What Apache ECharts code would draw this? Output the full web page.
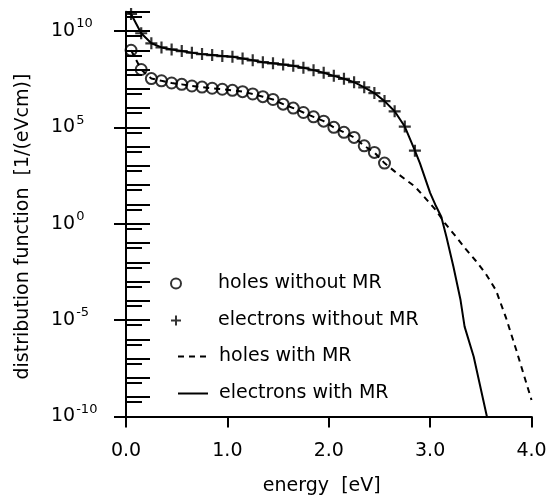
<!DOCTYPE html>
<html><head><meta charset="utf-8">
<script src="https://cdn.jsdelivr.net/npm/echarts@6/dist/echarts.min.js"></script>
<style>html,body{margin:0;padding:0;background:#fff}#c{width:550px;height:500px}</style>
</head><body><div id="c"></div>
<script>
const FONT = 'DejaVu Sans';

// ---- data (energy in eV, distribution function in 1/(eVcm)) ----
const holesEnergy = [0.05,0.15,0.25,0.35,0.45,0.55,0.65,0.75,0.85,0.95,1.05,1.15,1.25,1.35,1.45,1.55,1.65,1.75,1.85,1.95,2.05,2.15,2.25,2.35,2.45,2.55];
const holesWithoutMR = [1.0e9,1.0e8,3.4e7,2.6e7,2.0e7,1.7e7,1.4e7,1.23e7,1.07e7,9.5e6,8.3e6,7.1e6,5.4e6,3.9e6,2.8e6,1.6e6,1.0e6,5.9e5,3.5e5,2.1e5,1.0e5,5.5e4,3.0e4,1.1e4,5.0e3,1.4e3];

const electronsEnergy = [0.05,0.15,0.25,0.35,0.45,0.55,0.65,0.75,0.85,0.95,1.05,1.15,1.25,1.35,1.45,1.55,1.65,1.75,1.85,1.95,2.05,2.15,2.25,2.35,2.45,2.55,2.65,2.75,2.85];
const electronsWithoutMR = [7.6e10,7.6e9,2.3e9,1.4e9,1.1e9,9.1e8,7.4e8,6.3e8,5.6e8,5.0e8,4.6e8,3.7e8,3.0e8,2.4e8,2.1e8,1.8e8,1.55e8,1.23e8,9.3e7,6.8e7,4.7e7,3.3e7,2.2e7,1.2e7,6.0e6,2.3e6,6.8e5,1.1e5,6.2e3];

const holesMREnergy = [0.05,0.15,0.25,0.35,0.45,0.55,0.65,0.75,0.85,0.95,1.05,1.15,1.25,1.35,1.45,1.55,1.65,1.75,1.85,1.95,2.05,2.15,2.25,2.35,2.45,2.55,2.65,2.75,2.85,2.95,3.05,3.15,3.25,3.35,3.45,3.55,3.65,3.75,3.85,3.95,4.0];
const holesWithMR = [1.0e9,1.0e8,3.4e7,2.6e7,2.0e7,1.7e7,1.4e7,1.23e7,1.07e7,9.5e6,8.3e6,7.1e6,5.4e6,3.9e6,2.8e6,1.6e6,1.0e6,5.9e5,3.5e5,2.1e5,1.0e5,5.5e4,3.0e4,1.1e4,5.0e3,1.4e3,5.2e2,2.1e2,85,22,5.6,1.0,0.23,0.05,0.012,2.5e-3,3.5e-4,1.26e-5,2.8e-7,5.2e-9,7.2e-10];

const electronsMREnergy = [0.0,0.05,0.15,0.25,0.35,0.45,0.55,0.65,0.75,0.85,0.95,1.05,1.15,1.25,1.35,1.45,1.55,1.65,1.75,1.85,1.95,2.05,2.15,2.25,2.35,2.45,2.55,2.65,2.75,2.85,2.9,3.0,3.05,3.11,3.16,3.23,3.3,3.34,3.43,3.56];
const electronsWithMR = [1.0e11,7.6e10,7.6e9,2.3e9,1.4e9,1.1e9,9.1e8,7.4e8,6.3e8,5.6e8,5.0e8,4.6e8,3.7e8,3.0e8,2.4e8,2.1e8,1.8e8,1.55e8,1.23e8,9.3e7,6.8e7,4.7e7,3.3e7,2.2e7,1.2e7,6.0e6,2.3e6,6.8e5,1.1e5,6.2e3,1.35e3,40,10,2.3,0.22,5.9e-3,1.1e-4,4.6e-6,1.26e-7,1.0e-10];

// ---- axes / ticks ----
const xTicks = [0,1,2,3,4];
const yLabelExponents = [-10,-5,0,5,10];
const yDecadeExponents = [-10,-9,-8,-7,-6,-5,-4,-3,-2,-1,0,1,2,3,4,5,6,7,8,9,10,11];
const SHORT_TICK_SHIFT = 0.26;
const yShortTicks = yDecadeExponents.filter(n => n > -10).map(n => n - SHORT_TICK_SHIFT);

const seriesNames = ['holes without MR','electrons without MR','holes with MR','electrons with MR'];

const pairs = (xs, ys) => xs.map((x, i) => [x, ys[i]]);
const black = '#000';

const auxY = (extra) => Object.assign({
  type: 'value', min: -10, max: 11, position: 'left', offset: 0,
  axisLine: { show: false, onZero: false }, splitLine: { show: false },
  axisLabel: { show: false }
}, extra);

const legendText = { fontSize: 19, fontFamily: FONT, color: black, lineHeight: 23 };

const chart = echarts.init(document.getElementById('c'), null, { renderer: 'canvas' });
chart.setOption({
  animation: false,
  backgroundColor: '#fff',
  textStyle: { fontFamily: FONT, color: black },
  grid: { left: 126, right: 18.5, top: 11.7, bottom: 83.5, outerBoundsMode: 'none', containLabel: false },
  xAxis: {
    type: 'value', min: 0, max: 4, interval: 1,
    name: 'energy  [eV]', nameLocation: 'middle', nameGap: 60,
    nameTextStyle: { fontSize: 19, fontFamily: FONT, color: black, padding: [0, 14, 0, 0] },
    axisLine: { onZero: false, lineStyle: { color: black, width: 2 } },
    axisTick: { show: true, inside: false, length: 11, lineStyle: { color: black, width: 2 }, customValues: xTicks },
    axisLabel: { fontSize: 19, fontFamily: FONT, color: black, margin: 25, customValues: xTicks,
      formatter: v => v.toFixed(1) },
    splitLine: { show: false }
  },
  yAxis: [
    {
      type: 'log', logBase: 10, min: 1e-10, max: 1e11, position: 'left',
      name: 'distribution function  [1/(eVcm)]', nameLocation: 'middle', nameGap: 93,
      nameTextStyle: { fontSize: 19, fontFamily: FONT, color: black, padding: [0, 25, 0, 0] },
      axisLine: { show: true, onZero: false, lineStyle: { color: black, width: 2 } },
      axisTick: { show: false }, axisLabel: { show: false }, splitLine: { show: false }, minorTick: { show: false }
    },
    auxY({ axisTick: { show: true, inside: true, length: 24, lineStyle: { color: black, width: 2 }, customValues: yDecadeExponents } }),
    auxY({ axisTick: { show: true, inside: true, length: 16, lineStyle: { color: black, width: 2 }, customValues: yShortTicks } }),
    auxY({
      axisTick: { show: true, inside: false, length: 12, lineStyle: { color: black, width: 2 }, customValues: yLabelExponents },
      axisLabel: {
        show: true, customValues: yLabelExponents, align: 'left', margin: 75, padding: [0, 0, 5, 0],
        formatter: v => '{b|10}{s|' + v + '}',
        rich: {
          b: { fontSize: 19, fontFamily: FONT, color: black, lineHeight: 24, verticalAlign: 'bottom' },
          s: { fontSize: 13, fontFamily: FONT, color: black, lineHeight: 13, verticalAlign: 'bottom', padding: [0, 0, 10, 1] }
        }
      }
    })
  ],
  legend: [
    {
      data: [seriesNames[0], seriesNames[1]], orient: 'vertical', left: 170, top: 272, padding: 0,
      itemWidth: 30, itemHeight: 10, itemGap: 14, selectedMode: false,
      textStyle: Object.assign({ padding: [0, 0, 0, 22] }, legendText)
    },
    {
      data: [seriesNames[2], seriesNames[3]], orient: 'vertical', left: 177, top: 345, padding: 0,
      itemWidth: 30, itemHeight: 14, itemGap: 14, selectedMode: false,
      itemStyle: { color: 'rgba(0,0,0,0)', borderWidth: 0, opacity: 0 },
      textStyle: Object.assign({ padding: [0, 0, 0, 6] }, legendText)
    }
  ],
  series: [
    {
      name: seriesNames[2], type: 'line', yAxisIndex: 0, data: pairs(holesMREnergy, holesWithMR),
      symbol: 'none', smooth: false, silent: true,
      lineStyle: { color: black, width: 2, type: [6, 5] }, itemStyle: { color: black }, z: 2
    },
    {
      name: seriesNames[3], type: 'line', yAxisIndex: 0, data: pairs(electronsMREnergy, electronsWithMR),
      symbol: 'none', smooth: false, silent: true,
      lineStyle: { color: black, width: 2 }, itemStyle: { color: black }, z: 2
    },
    {
      name: seriesNames[0], type: 'scatter', yAxisIndex: 0, data: pairs(holesEnergy, holesWithoutMR),
      symbol: 'circle', symbolSize: 11, silent: true,
      itemStyle: { color: 'rgba(0,0,0,0)', borderColor: black, borderWidth: 2 }, z: 3
    },
    {
      name: seriesNames[1], type: 'scatter', yAxisIndex: 0, data: pairs(electronsEnergy, electronsWithoutMR),
      symbol: 'path://M5,0L5,10M0,5L10,5', symbolSize: 12, silent: true,
      itemStyle: { color: 'rgba(0,0,0,0)', borderColor: black, borderWidth: 2.2 }, z: 3
    }
  ]
});
</script></body></html>
